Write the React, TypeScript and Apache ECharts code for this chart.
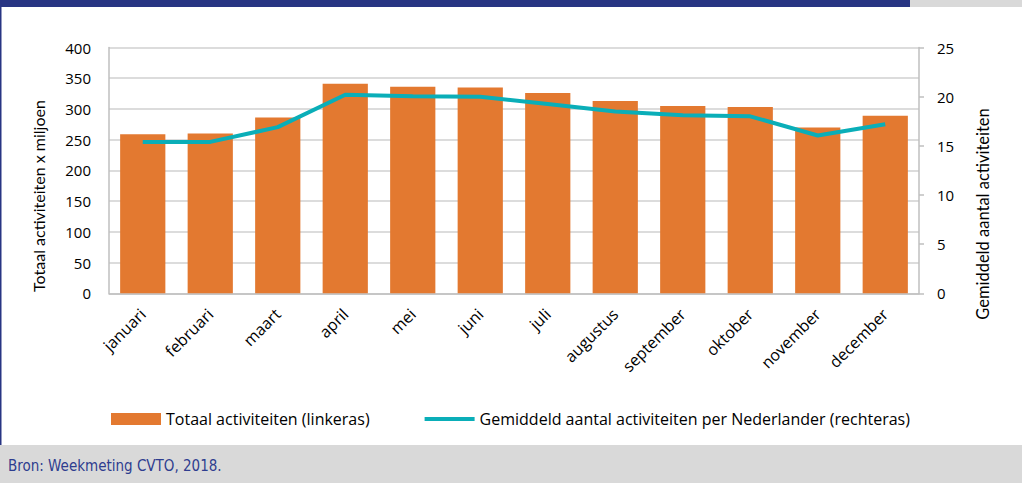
import React, { useEffect, useRef } from "react";
import * as echarts from "echarts";

const months = [
  "januari", "februari", "maart", "april", "mei", "juni",
  "juli", "augustus", "september", "oktober", "november", "december",
];
const totalActivities = [259, 260, 286, 341, 336, 335, 326, 313, 305, 303, 270, 289];
const avgPerPerson = [15.4, 15.4, 16.9, 20.2, 20.05, 20.0, 19.25, 18.5, 18.1, 18.0, 16.05, 17.2];
const leftTicks = { min: 0, max: 400, interval: 50 };
const rightTicks = { min: 0, max: 25, interval: 5 };

const FONT = "'Open Sans', Lato, sans-serif";
const NAMEFONT = "Lato, 'Open Sans', sans-serif";
const NARROW = "'Liberation Sans Narrow', 'DejaVu Sans Condensed', sans-serif";

export default function App() {
  const ref = useRef<HTMLDivElement>(null);
  useEffect(() => {
    document.body.style.margin = "0";
    if (!ref.current) return;
    const chart = echarts.init(ref.current, undefined, { renderer: "svg" });
    chart.setOption({
      animation: false,
      backgroundColor: "#ffffff",
      textStyle: { fontFamily: FONT },
      grid: { left: 109, right: 103, top: 47.5, bottom: 189.7, containLabel: false },
      legend: {
        left: 106,
        top: 406,
        itemWidth: 50,
        itemHeight: 12,
        itemGap: 55,
        textStyle: { fontSize: 16, color: "#000", fontFamily: FONT },
        data: [
          { name: "Totaal activiteiten (linkeras)", icon: "rect" },
          {
            name: "Gemiddeld aantal activiteiten per Nederlander (rechteras)",
            icon: "path://M0,0 L50,0 L50,4 L0,4 Z",
          },
        ],
      },
      xAxis: {
        type: "category",
        data: months,
        axisLine: { lineStyle: { color: "#bfbfbf", width: 1.5 } },
        axisTick: { show: false },
        axisLabel: {
          rotate: 45,
          margin: 18,
          interval: 0,
          fontSize: 16,
          color: "#000",
          fontFamily: FONT,
        },
      },
      yAxis: [
        {
          type: "value",
          ...leftTicks,
          axisLine: { show: true, lineStyle: { color: "#bfbfbf", width: 1.5 } },
          axisTick: { show: false },
          splitLine: { lineStyle: { color: "#d0d0d0", width: 1.5 } },
          axisLabel: { fontSize: 15, color: "#000", margin: 18, fontFamily: FONT },
        },
        {
          type: "value",
          ...rightTicks,
          position: "right",
          axisLine: { show: true, lineStyle: { color: "#bfbfbf", width: 1.5 } },
          axisTick: { show: true, length: 5, lineStyle: { color: "#bfbfbf", width: 1.5 } },
          splitLine: { show: false },
          axisLabel: { fontSize: 15, color: "#000", margin: 18, fontFamily: FONT },
        },
      ],
      series: [
        {
          name: "Totaal activiteiten (linkeras)",
          type: "bar",
          data: totalActivities,
          yAxisIndex: 0,
          barCategoryGap: "33%",
          itemStyle: { color: "#e37930" },
        },
        {
          name: "Gemiddeld aantal activiteiten per Nederlander (rechteras)",
          type: "line",
          data: avgPerPerson,
          yAxisIndex: 1,
          symbol: "none",
          lineStyle: { color: "#0aaeb8", width: 4 },
          itemStyle: { color: "#0aaeb8" },
        },
      ],
      graphic: [
        { type: "rect", shape: { x: 0, y: 0, width: 910, height: 7 }, style: { fill: "#283583" }, silent: true },
        { type: "rect", shape: { x: 910, y: 0, width: 112, height: 7 }, style: { fill: "#d9d9d9" }, silent: true },
        { type: "rect", shape: { x: 0, y: 0, width: 1.5, height: 445 }, style: { fill: "#283583" }, silent: true },
        { type: "rect", shape: { x: 0, y: 445, width: 1022, height: 38 }, style: { fill: "#d9d9d9" }, silent: true },
        {
          type: "text",
          x: 8,
          y: 466,
          style: {
            text: "Bron: Weekmeting CVTO, 2018.",
            fill: "#2e3d8f",
            font: `15px ${NARROW}`,
            verticalAlign: "middle",
          },
        },
        {
          type: "text",
          x: 38,
          y: 196,
          rotation: Math.PI / 2,
          style: {
            text: "Totaal activiteiten x miljoen",
            fill: "#000",
            font: `16px ${NAMEFONT}`,
            align: "center",
            verticalAlign: "middle",
          },
        },
        {
          type: "text",
          x: 983,
          y: 214,
          rotation: Math.PI / 2,
          style: {
            text: "Gemiddeld aantal activiteiten",
            fill: "#000",
            font: `16.5px ${NAMEFONT}`,
            align: "center",
            verticalAlign: "middle",
          },
        },
      ],
    });
    return () => chart.dispose();
  }, []);
  return <div ref={ref} style={{ width: 1022, height: 483 }} />;
}
